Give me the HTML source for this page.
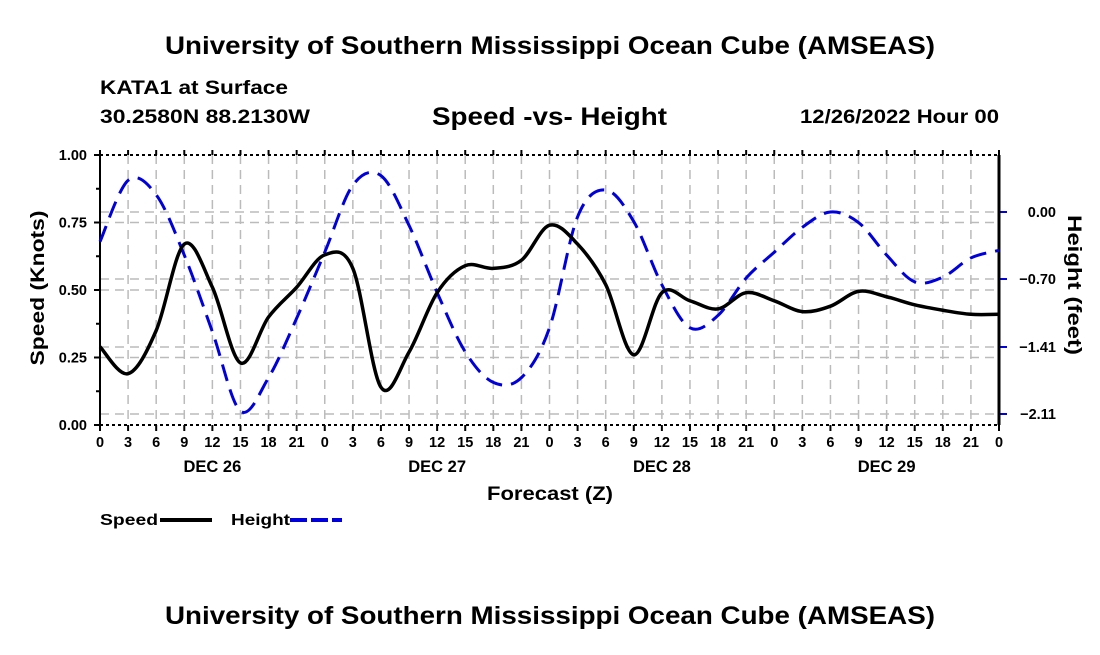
<!DOCTYPE html>
<html><head><meta charset="utf-8"><style>
body{margin:0;background:#fff;}
svg text{font-family:"Liberation Sans",Arial,sans-serif;font-weight:bold;fill:#000;}
</style></head><body>
<svg width="1100" height="650" viewBox="0 0 1100 650" xmlns="http://www.w3.org/2000/svg">
<text x="165" y="54" font-size="25" textLength="770" lengthAdjust="spacingAndGlyphs">University of Southern Mississippi Ocean Cube (AMSEAS)</text>
<text x="100" y="94" font-size="19" textLength="188" lengthAdjust="spacingAndGlyphs">KATA1 at Surface</text>
<text x="100" y="123" font-size="19" textLength="210" lengthAdjust="spacingAndGlyphs">30.2580N  88.2130W</text>
<text x="432" y="125" font-size="25" textLength="235" lengthAdjust="spacingAndGlyphs">Speed -vs- Height</text>
<text x="800" y="123" font-size="19" textLength="199" lengthAdjust="spacingAndGlyphs">12/26/2022 Hour 00</text>
<text x="165" y="624" font-size="25" textLength="770" lengthAdjust="spacingAndGlyphs">University of Southern Mississippi Ocean Cube (AMSEAS)</text>
<g id="grid"></g>
<g id="axes"></g>
<path id="heightLine" fill="none" stroke="#0000dd" stroke-width="3" stroke-dasharray="17,9"/>
<path id="speedLine" fill="none" stroke="#000" stroke-width="3.5"/>
<text x="0" y="0" transform="translate(44,288) rotate(-90)" text-anchor="middle" font-size="19" textLength="155" lengthAdjust="spacingAndGlyphs">Speed (Knots)</text>
<text x="0" y="0" transform="translate(1068,285) rotate(90)" text-anchor="middle" font-size="19" textLength="140" lengthAdjust="spacingAndGlyphs">Height (feet)</text>
<text x="487" y="500" font-size="19" textLength="126" lengthAdjust="spacingAndGlyphs">Forecast (Z)</text>
<g>
<text x="100" y="525" font-size="16" textLength="58" lengthAdjust="spacingAndGlyphs">Speed</text>
<line x1="160" y1="520" x2="212" y2="520" stroke="#000" stroke-width="4"/>
<text x="231" y="525" font-size="16" textLength="59" lengthAdjust="spacingAndGlyphs">Height</text>
<line x1="290" y1="520" x2="342" y2="520" stroke="#0000dd" stroke-width="4" stroke-dasharray="17,4"/>
</g>
</svg>
<script>
const hours=[0,3,6,9,12,15,18,21,24,27,30,33,36,39,42,45,48,51,54,57,60,63,66,69,72,75,78,81,84,87,90,93,96];
const speedVals=[0.29,0.19,0.35,0.67,0.51,0.23,0.40,0.51,0.63,0.58,0.14,0.27,0.49,0.59,0.58,0.61,0.74,0.67,0.52,0.26,0.49,0.46,0.43,0.49,0.46,0.42,0.44,0.495,0.475,0.445,0.425,0.41,0.41];
const heightVals=[-0.31,0.33,0.18,-0.45,-1.25,-2.08,-1.73,-1.11,-0.42,0.28,0.38,-0.14,-0.84,-1.46,-1.78,-1.73,-1.21,-0.05,0.23,-0.10,-0.76,-1.21,-1.08,-0.69,-0.42,-0.16,0.0,-0.11,-0.45,-0.73,-0.68,-0.48,-0.40];
const speedTicks=[0,0.25,0.5,0.75,1.0];
const heightTicks=[0.00,-0.70,-1.41,-2.11];
const xTickLabels=["0","3","6","9","12","15","18","21"];
const dayLabels=["DEC 26","DEC 27","DEC 28","DEC 29"];
const L=100,R=999,T=155,B=425;
const xs=h=>L+(R-L)*h/96;
const ys=v=>B-(B-T)*v;
const yh=v=>212-v*(414-212)/2.11;
const NS="http://www.w3.org/2000/svg";
function mk(tag,attrs,parent,txt){const e=document.createElementNS(NS,tag);for(const k in attrs)e.setAttribute(k,attrs[k]);if(txt!==undefined)e.textContent=txt;parent.appendChild(e);return e;}
const grid=document.getElementById('grid'),axes=document.getElementById('axes');
for(let h=3;h<96;h+=3){const g=mk('line',{x1:xs(h),x2:xs(h),y1:T,y2:B,stroke:'#bbb','stroke-width':1.5,'stroke-dasharray':'9,6'},grid);

}
speedTicks.forEach(v=>{if(v>0&&v<1){const g=mk('line',{x1:L,x2:R,y1:ys(v),y2:ys(v),stroke:'#bbb','stroke-width':1.5,'stroke-dasharray':'9,6'},grid);

}
const t=mk('text',{x:87,y:ys(v)+5,'text-anchor':'end','font-size':14.5},axes,v.toFixed(2));


mk('line',{x1:L-6,x2:L,y1:ys(v),y2:ys(v),stroke:'#000','stroke-width':2},axes);});
for(let v=0.125;v<1;v+=0.25)mk('line',{x1:L-4,x2:L,y1:ys(v),y2:ys(v),stroke:'#000','stroke-width':2},axes);
heightTicks.forEach(v=>{const g=mk('line',{x1:L,x2:R,y1:yh(v),y2:yh(v),stroke:'#bbb','stroke-width':1.5,'stroke-dasharray':'9,6'},grid);


mk('line',{x1:R,x2:R+8,y1:yh(v),y2:yh(v),stroke:'#0000dd','stroke-width':2},axes);
const t=mk('text',{x:1056,y:yh(v)+5,'text-anchor':'end','font-size':14.5},axes,v.toFixed(2).replace('-','\u2212'));

});
mk('line',{x1:L,x2:L,y1:T,y2:B,stroke:'#000','stroke-width':2},axes);
mk('line',{x1:R,x2:R,y1:T,y2:B,stroke:'#000','stroke-width':3},axes);
mk('line',{x1:L,x2:R,y1:T,y2:T,stroke:'#000','stroke-width':2,'stroke-dasharray':'3,3'},axes);
mk('line',{x1:L,x2:R,y1:B,y2:B,stroke:'#000','stroke-width':2,'stroke-dasharray':'3,3'},axes);
for(let h=0;h<=96;h+=3){mk('line',{x1:xs(h),x2:xs(h),y1:T,y2:T-5,stroke:'#000','stroke-width':2},axes);
mk('line',{x1:xs(h),x2:xs(h),y1:B,y2:B+6,stroke:'#000','stroke-width':2},axes);
const t=mk('text',{x:xs(h),y:447,'text-anchor':'middle','font-size':14.5},axes,h===96?"0":xTickLabels[(h%24)/3]);

}
dayLabels.forEach((d,i)=>{const t=mk('text',{x:xs(12+24*i),y:472,'text-anchor':'middle','font-size':16.5},axes,d);

});
function smooth(px,py){let d=`M${px[0]},${py[0]}`;for(let i=0;i<px.length-1;i++){const x0=px[Math.max(i-1,0)],y0=py[Math.max(i-1,0)],x1=px[i],y1=py[i],x2=px[i+1],y2=py[i+1],x3=px[Math.min(i+2,px.length-1)],y3=py[Math.min(i+2,px.length-1)];
d+=` C${x1+(x2-x0)/6},${y1+(y2-y0)/6} ${x2-(x3-x1)/6},${y2-(y3-y1)/6} ${x2},${y2}`;}return d;}
document.getElementById('speedLine').setAttribute('d',smooth(hours.map(xs),speedVals.map(ys)));
document.getElementById('heightLine').setAttribute('d',smooth(hours.map(xs),heightVals.map(yh)));
</script>
</body></html>
